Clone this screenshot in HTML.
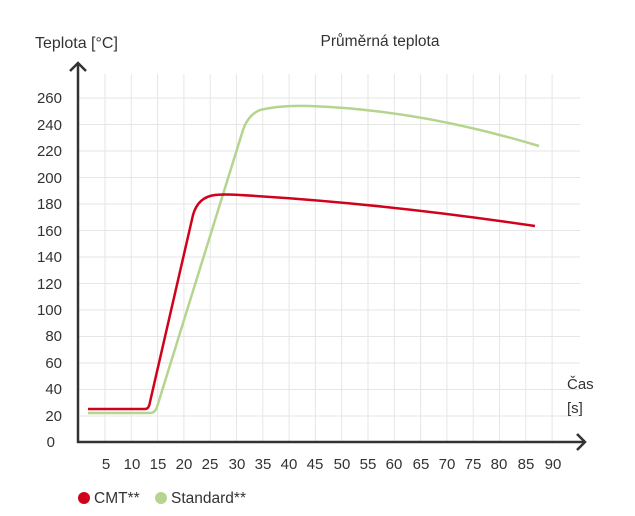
<!DOCTYPE html>
<html><head><meta charset="utf-8"><style>
body{margin:0;background:#fff;}
svg{display:block;font-family:"Liberation Sans",sans-serif;}
</style></head><body>
<svg width="635" height="516" viewBox="0 0 635 516">
<g stroke="#e6e6e6" stroke-width="1">
<line x1="78" y1="98" x2="580" y2="98"/><line x1="78" y1="124.5" x2="580" y2="124.5"/>
<line x1="78" y1="151" x2="580" y2="151"/><line x1="78" y1="177.5" x2="580" y2="177.5"/>
<line x1="78" y1="204" x2="580" y2="204"/><line x1="78" y1="230.5" x2="580" y2="230.5"/>
<line x1="78" y1="257" x2="580" y2="257"/><line x1="78" y1="283.5" x2="580" y2="283.5"/>
<line x1="78" y1="310" x2="580" y2="310"/><line x1="78" y1="336.5" x2="580" y2="336.5"/>
<line x1="78" y1="363" x2="580" y2="363"/><line x1="78" y1="389.5" x2="580" y2="389.5"/>
<line x1="78" y1="416" x2="580" y2="416"/>
<line x1="105" y1="74" x2="105" y2="442"/><line x1="131.3" y1="74" x2="131.3" y2="442"/>
<line x1="157.6" y1="74" x2="157.6" y2="442"/><line x1="183.9" y1="74" x2="183.9" y2="442"/>
<line x1="210.2" y1="74" x2="210.2" y2="442"/><line x1="236.5" y1="74" x2="236.5" y2="442"/>
<line x1="262.8" y1="74" x2="262.8" y2="442"/><line x1="289.1" y1="74" x2="289.1" y2="442"/>
<line x1="315.4" y1="74" x2="315.4" y2="442"/><line x1="341.7" y1="74" x2="341.7" y2="442"/>
<line x1="368" y1="74" x2="368" y2="442"/><line x1="394.3" y1="74" x2="394.3" y2="442"/>
<line x1="420.6" y1="74" x2="420.6" y2="442"/><line x1="446.9" y1="74" x2="446.9" y2="442"/>
<line x1="473.2" y1="74" x2="473.2" y2="442"/><line x1="499.5" y1="74" x2="499.5" y2="442"/>
<line x1="525.8" y1="74" x2="525.8" y2="442"/><line x1="552.1" y1="74" x2="552.1" y2="442"/>
</g>
<g stroke="#333" stroke-width="2.5" fill="none">
<line x1="78" y1="64" x2="78" y2="443"/>
<polyline points="70,71 78,63 86,71"/>
<line x1="77" y1="442" x2="585" y2="442"/>
<polyline points="577,434 585,442 577,450"/>
</g>
<g font-size="15" fill="#333" text-anchor="end">
<text x="62" y="103">260</text><text x="62" y="130">240</text><text x="62" y="156">220</text>
<text x="62" y="183">200</text><text x="62" y="209">180</text><text x="62" y="236">160</text>
<text x="62" y="262">140</text><text x="62" y="289">120</text><text x="62" y="315">100</text>
<text x="62" y="341">80</text><text x="62" y="368">60</text><text x="62" y="394">40</text>
<text x="62" y="421">20</text><text x="55" y="447">0</text>
</g>
<g font-size="15" fill="#333" text-anchor="middle">
<text x="106" y="469">5</text><text x="132" y="469">10</text><text x="158" y="469">15</text>
<text x="184" y="469">20</text><text x="210" y="469">25</text><text x="237" y="469">30</text>
<text x="263" y="469">35</text><text x="289" y="469">40</text><text x="315" y="469">45</text>
<text x="342" y="469">50</text><text x="368" y="469">55</text><text x="394" y="469">60</text>
<text x="421" y="469">65</text><text x="447" y="469">70</text><text x="473" y="469">75</text>
<text x="499" y="469">80</text><text x="526" y="469">85</text><text x="553" y="469">90</text>
</g>
<text x="35" y="48" font-size="16" fill="#333">Teplota [°C]</text>
<text x="380" y="46" font-size="15.5" fill="#333" text-anchor="middle">Průměrná teplota</text>
<text x="567" y="389" font-size="15" fill="#333">Čas</text>
<text x="567" y="413" font-size="15" fill="#333">[s]</text>
<path d="M88,413 L150,413 Q155,413 157,407 L243,130 Q248,115 260,110 Q280,105 310,106 Q420,110 539,146" stroke="#b5d48e" stroke-width="2.5" fill="none"/>
<path d="M88,409 L145,409 Q149,409 150,402 L193,215 Q198,197 215,195 Q225,194 240,195 Q380,203 535,226" stroke="#d0021b" stroke-width="2.5" fill="none"/>
<circle cx="84" cy="498" r="6" fill="#d0021b"/>
<text x="94" y="503" font-size="15.5" fill="#333">CMT**</text>
<circle cx="161" cy="498" r="6" fill="#b5d48e"/>
<text x="171" y="503" font-size="15.5" fill="#333">Standard**</text>
</svg>
</body></html>
